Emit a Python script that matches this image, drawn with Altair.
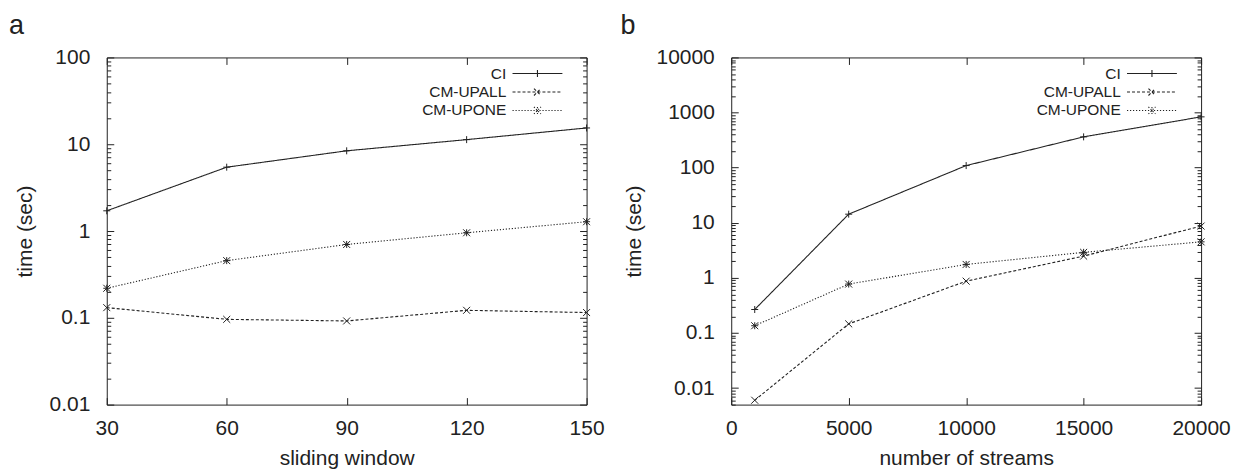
import altair as alt
import pandas as pd

# ---------------- data ----------------
series_names = ["CI", "CM-UPALL", "CM-UPONE"]

# panel a: sliding window
window_sizes = [30, 60, 90, 120, 150]
a_ci = [1.71, 5.44, 8.4, 11.3, 15.4]
a_upall = [0.131, 0.096, 0.092, 0.122, 0.115]
a_upone = [0.219, 0.456, 0.70, 0.955, 1.28]

# panel b: number of streams
stream_counts = [1000, 5000, 10000, 15000, 20000]
b_ci = [0.266, 14.3, 109, 362, 835]
b_upall = [0.006, 0.146, 0.87, 2.48, 8.7]
b_upone = [0.135, 0.77, 1.75, 2.9, 4.5]

# tick labels
a_x_ticks = [30, 60, 90, 120, 150]
a_y_decades = [0.01, 0.1, 1, 10, 100]
b_x_ticks = [0, 5000, 10000, 15000, 20000]
b_y_decades = [0.01, 0.1, 1, 10, 100, 1000, 10000]

# ---------------- style ----------------
INK = "#222222"
FONT = "Liberation Sans"
PLOT_H = 348
DECADE_TEST = "abs(log(datum.value) / LN10 - round(log(datum.value) / LN10)) < 0.001"

dash_styles = [[1, 0], [3, 2], [1.2, 1.8]]
marker_paths = [
    "M-1,0H1M0,-1V1",
    "M-1,-1L1,1M-1,1L1,-1",
    "M-1,0H1M0,-1V1M-1,-1L1,1M-1,1L1,-1",
]
legend_paths = [
    "M-5,0L5,0M0,-0.7L0,0.7",
    "M-5,0L5,0M-0.7,-0.7L0.7,0.7M-0.7,0.7L0.7,-0.7",
    "M-5,0L5,0M0,-0.7L0,0.7M-0.7,-0.7L0.7,0.7M-0.7,0.7L0.7,-0.7",
]


def legend_shape_expr():
    expr = "'" + legend_paths[-1] + "'"
    for name, path in reversed(list(zip(series_names[:-1], legend_paths[:-1]))):
        expr = f"datum.value == '{name}' ? '{path}' : ({expr})"
    return expr


def long_table(xs, columns):
    rows = []
    for name, vals in zip(series_names, columns):
        for x, v in zip(xs, vals):
            rows.append({"x": x, "t": v, "series": name})
    return pd.DataFrame(rows)


def log_ticks(decades, lo, hi):
    vals = set()
    for d in [decades[0] / 10] + decades:
        for k in range(1, 10):
            v = float(f"{d * k:.10g}")
            if lo * (1 - 1e-9) <= v <= hi * (1 + 1e-9):
                vals.add(v)
    return sorted(vals)


def panel(df, x_ticks, x_domain, x_title, y_ticks, y_domain, width,
          name, name_dx, ytitle_dx, legend_x):
    common = dict(grid=False, domain=False, tickColor=INK, tickWidth=1,
                  labelFont=FONT, titleFont=FONT, labelColor=INK, titleColor=INK,
                  labelFontSize=21, titleFontSize=21, titleFontWeight="normal",
                  labelFlush=False, labelOverlap=False)
    ytick = {"condition": {"test": DECADE_TEST, "value": 7}, "value": 4}

    x_main = alt.Axis(orient="top", offset=-PLOT_H, values=x_ticks, format="d",
                      tickSize=7, labelPadding=-31, labelBaseline="middle",
                      title=x_title, titleX=width / 2, titleY=54.5,
                      titleAlign="center", titleBaseline="middle", titleAngle=0,
                      **common)
    x_mirror = alt.Axis(orient="bottom", offset=-PLOT_H, values=x_ticks,
                        tickSize=7, labels=False, title="", **common)
    y_main = alt.Axis(orient="right", offset=-width, values=y_ticks, format="~g",
                      labelExpr=f"({DECADE_TEST}) ? datum.label : ''",
                      tickSize=ytick, labelPadding=-24, labelAlign="right",
                      labelBaseline="middle", title="time (sec)",
                      titleX=ytitle_dx, titleY=PLOT_H / 2, titleAngle=270,
                      titleAlign="center", titleBaseline="middle", **common)
    y_mirror = alt.Axis(orient="left", offset=-width, values=y_ticks,
                        tickSize=ytick, labels=False, title="", **common)

    xscale = alt.Scale(domain=x_domain, nice=False, zero=False)
    yscale = alt.Scale(type="log", domain=y_domain, nice=False)

    base = alt.Chart(df)
    lines = base.mark_line(color=INK, strokeWidth=1.1).encode(
        x=alt.X("x:Q", scale=xscale, axis=x_main),
        y=alt.Y("t:Q", scale=yscale, axis=y_main),
        strokeDash=alt.StrokeDash(
            "series:N",
            scale=alt.Scale(domain=series_names, range=dash_styles),
            legend=alt.Legend(
                orient="none", legendX=legend_x, legendY=8.4, title="",
                symbolType={"expr": legend_shape_expr()}, symbolSize=100,
                symbolStrokeWidth=1.1, symbolStrokeColor=INK,
                symbolFillColor="transparent", symbolOffset=0,
                labelAlign="right", labelOffset={"expr": "-39"}, labelFont=FONT,
                labelFontSize=15.5, labelColor=INK, rowPadding=1.5, padding=0,
            ),
        ),
    )
    layers = [lines]
    for i, (sname, path) in enumerate(zip(series_names, marker_paths)):
        enc = dict(
            x=alt.X("x:Q", axis=x_mirror if i == 0 else None),
            y=alt.Y("t:Q", axis=y_mirror if i == 0 else None),
        )
        layers.append(
            base.transform_filter(alt.datum.series == sname)
            .mark_point(color=INK, filled=False, strokeWidth=1, size=49,
                        opacity=1, shape=path)
            .encode(**enc)
        )
    return alt.layer(*layers).resolve_axis(
        x="independent", y="independent"
    ).properties(
        width=width, height=PLOT_H,
        title=alt.TitleParams(text=name, anchor="start", frame="group",
                              dx=name_dx, offset=-14.5, fontSize=27, font=FONT,
                              fontWeight="normal", color=INK, baseline="alphabetic"),
    )


pa = panel(long_table(window_sizes, [a_ci, a_upall, a_upone]),
           a_x_ticks, [30, 150], "sliding window",
           log_ticks(a_y_decades, 0.01, 100), [0.01, 100], 481,
           "a", -98, -81, 424)
pb = panel(long_table(stream_counts, [b_ci, b_upall, b_upone]),
           b_x_ticks, [0, 20000], "number of streams",
           log_ticks(b_y_decades, 0.005, 10000), [0.005, 10000], 471,
           "b", -111, -97, 414)

chart = alt.hconcat(pa, pb, spacing=145, bounds="flush").resolve_scale(
    strokeDash="independent", x="independent", y="independent"
).resolve_legend(strokeDash="independent").configure_view(
    stroke=INK, strokeWidth=1
).properties(padding={"left": 0, "top": 3, "right": 5, "bottom": 5})

chart.save("out.html", embed_options={"renderer": "svg", "actions": False})
